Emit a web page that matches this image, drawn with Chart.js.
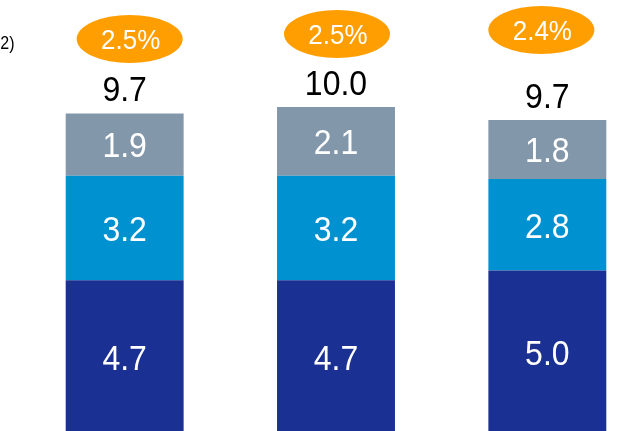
<!DOCTYPE html>
<html>
<head>
<meta charset="utf-8">
<script src="https://cdn.jsdelivr.net/npm/chart.js@4/dist/chart.umd.min.js"></script>
<style>
  html, body { margin: 0; padding: 0; background: #fff; overflow: hidden; }
  #wrap { width: 637px; height: 431px; overflow: hidden; position: relative; }
  canvas { display: block; }
</style>
</head>
<body>
<div id="wrap"><canvas id="chart" width="660" height="440"></canvas></div>
<script>
// datos
const categories = ["A", "B", "C"];
const bottomValues = [4.7, 4.7, 5.0];
const middleValues = [3.2, 3.2, 2.8];
const topValues = [1.9, 2.1, 1.8];
const totalLabels = ["9.7", "10.0", "9.7"];
const growthLabels = ["2.5%", "2.5%", "2.4%"];

// colores
const NAVY = "#1a3092";
const BLUE = "#0092d0";
const GREY = "#8397ab";
const ORANGE = "#ff9e00";

// posicion de las burbujas naranjas (ajuste respecto al centro de la barra)
const bubbleDx = [5, 1, -6];
const bubbleY = [39, 34, 30];

const FONT = "'Liberation Sans', Arial, sans-serif";

function drawText(ctx, text, x, baseline, size, color, sy) {
  ctx.save();
  ctx.translate(x, baseline);
  ctx.scale(1, sy);
  ctx.font = size + "px " + FONT;
  ctx.fillStyle = color;
  ctx.textAlign = "center";
  ctx.textBaseline = "alphabetic";
  ctx.fillText(text, 0, 0);
  ctx.restore();
}

const labelsPlugin = {
  id: "labelsPlugin",
  afterDatasetsDraw(chart) {
    const ctx = chart.ctx;
    const size = 32, sy = 1.12;
    const cap = size * 0.716 * sy;

    // valores dentro de cada segmento
    chart.data.datasets.forEach((ds, di) => {
      const meta = chart.getDatasetMeta(di);
      meta.data.forEach((el, i) => {
        const mid = (el.y + el.base) / 2;
        drawText(ctx, ds.data[i].toFixed(1), el.x, mid + cap / 2, size, "#fff", sy);
      });
    });

    // totales y burbujas
    const topMeta = chart.getDatasetMeta(chart.data.datasets.length - 1);
    topMeta.data.forEach((el, i) => {
      drawText(ctx, totalLabels[i], el.x, el.y - 12, size, "#000", sy);

      const cx = el.x + bubbleDx[i];
      const cy = bubbleY[i];
      ctx.save();
      ctx.beginPath();
      ctx.ellipse(cx, cy, 53, 24, 0, 0, Math.PI * 2);
      ctx.fillStyle = ORANGE;
      ctx.fill();
      ctx.restore();
      drawText(ctx, growthLabels[i], cx + 1, cy + 10, 26, "#fff", 1.05);
    });

    // nota cortada a la izquierda
    ctx.save();
    ctx.font = "16px " + FONT;
    ctx.fillStyle = "#000";
    ctx.textAlign = "left";
    ctx.textBaseline = "alphabetic";
    ctx.translate(-5, 49);
    ctx.scale(1, 1.1);
    ctx.fillText("(2)", 0, 0);
    ctx.restore();
  }
};

new Chart(document.getElementById("chart"), {
  type: "bar",
  data: {
    labels: categories,
    datasets: [
      { data: bottomValues, backgroundColor: NAVY },
      { data: middleValues, backgroundColor: BLUE },
      { data: topValues, backgroundColor: GREY }
    ]
  },
  options: {
    responsive: false,
    animation: false,
    devicePixelRatio: 1,
    layout: { padding: { left: 19, right: 7, top: 0, bottom: 6 } },
    datasets: { bar: { categoryPercentage: 1, barPercentage: 0.558, borderWidth: 0 } },
    scales: {
      x: { stacked: true, display: false },
      y: { stacked: true, display: false, min: 0, max: 13.27 }
    },
    plugins: { legend: { display: false }, tooltip: { enabled: false } }
  },
  plugins: [labelsPlugin]
});
</script>
</body>
</html>
